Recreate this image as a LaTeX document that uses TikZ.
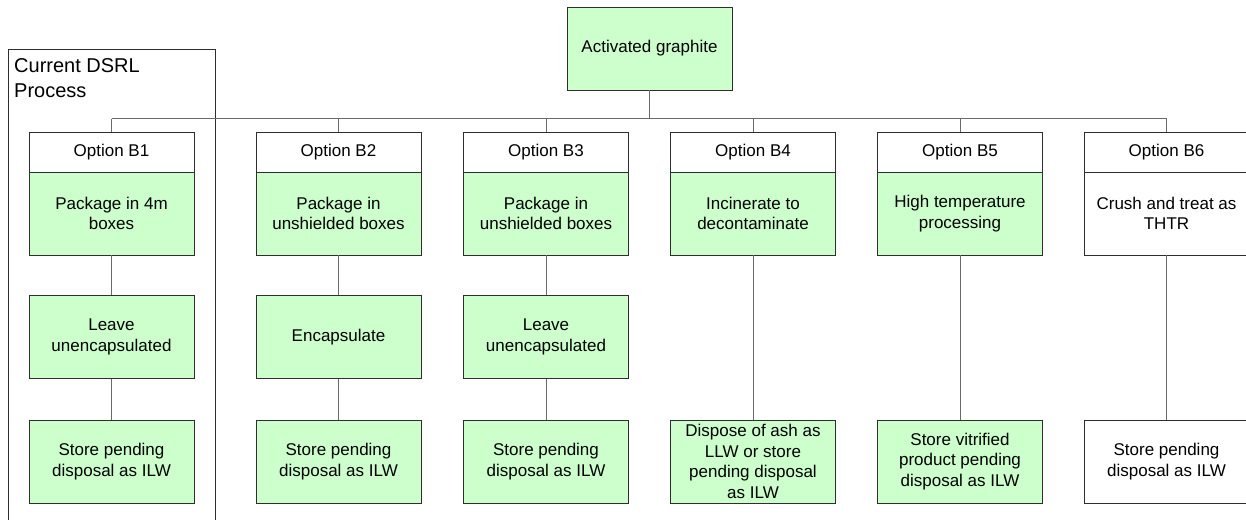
\documentclass[tikz,border=0pt]{standalone}
\usepackage{fontspec}
\setmainfont{Liberation Sans}
\definecolor{boxgreen}{HTML}{CCFFCC}
\definecolor{edgec}{HTML}{2E2E2E}
\definecolor{wirec}{HTML}{6A6A6A}
\begin{document}
\begin{tikzpicture}[x=1pt,y=-1pt,
  base/.style={draw=edgec,line width=0.9pt,minimum width=165pt,inner sep=2pt,align=center,
    font=\fontsize{17}{20.5}\selectfont},
  gbox/.style={base,fill=boxgreen,minimum height=83pt},
  wbox/.style={base,fill=white,minimum height=83pt},
  hdr/.style={base,fill=white,minimum height=40pt},
  wire/.style={draw=wirec,line width=1pt}]
\useasboundingbox (0,0) rectangle (1246,519);
\fill[white] (0,0) rectangle (1246,519);
% frame of current process
\draw[edgec,line width=0.9pt] (8,49) rectangle (215,540);
\node[anchor=north west,inner sep=0pt,align=left,font=\fontsize{20}{24.5}\selectfont] (dsrl) at (14,58.5) {Current DSRL\\Process};
% root
\node[gbox] (top) at (649.5,48.5) {Activated graphite};
% B1
\node[hdr] (h1) at (111.5,152) {Option B1};
\node[gbox] (a1) at (111.5,213.5) {Package in 4m\\boxes};
\node[gbox] (m1) at (111.5,337) {Leave\\unencapsulated};
\node[gbox] (s1) at (111.5,461.5) {Store pending\\disposal as ILW};
% B2
\node[hdr] (h2) at (338.5,152) {Option B2};
\node[gbox] (a2) at (338.5,213.5) {Package in\\unshielded boxes};
\node[gbox] (m2) at (338.5,337) {Encapsulate};
\node[gbox] (s2) at (338.5,461.5) {Store pending\\disposal as ILW};
% B3
\node[hdr] (h3) at (546,152) {Option B3};
\node[gbox] (a3) at (546,213.5) {Package in\\unshielded boxes};
\node[gbox] (m3) at (546,337) {Leave\\unencapsulated};
\node[gbox] (s3) at (546,461.5) {Store pending\\disposal as ILW};
% B4
\node[hdr] (h4) at (753,152) {Option B4};
\node[gbox] (a4) at (753,213.5) {Incinerate to\\decontaminate};
\node[gbox] (s4) at (753,461.5) {Dispose of ash as\\LLW or store\\pending disposal\\as ILW};
% B5
\node[hdr] (h5) at (960,152) {Option B5};
\node[gbox] (a5) at (960,213.5) {High temperature\\processing};
\node[gbox] (s5) at (960,461.5) {Store vitrified\\product pending\\disposal as ILW};
% B6
\node[hdr] (h6) at (1166.5,152) {Option B6};
\node[wbox] (a6) at (1166.5,213.5) {Crush and treat as\\THTR};
\node[wbox] (s6) at (1166.5,461.5) {Store pending\\disposal as ILW};
% tree connectors
\coordinate (barL) at (111.5,118.5);
\coordinate (barR) at (1166.5,118.5);
\draw[wire] (top.south) -- (top.south |- barL);
\draw[wire] (barL) -- (barR);
\foreach \h in {h1,h2,h3,h4,h5,h6}{
  \draw[wire] (\h.north |- barL) -- (\h.north);
}
\draw[wire] (a1) -- (m1); \draw[wire] (m1) -- (s1);
\draw[wire] (a2) -- (m2); \draw[wire] (m2) -- (s2);
\draw[wire] (a3) -- (m3); \draw[wire] (m3) -- (s3);
\draw[wire] (a4) -- (s4);
\draw[wire] (a5) -- (s5);
\draw[wire] (a6) -- (s6);
\end{tikzpicture}
\end{document}
